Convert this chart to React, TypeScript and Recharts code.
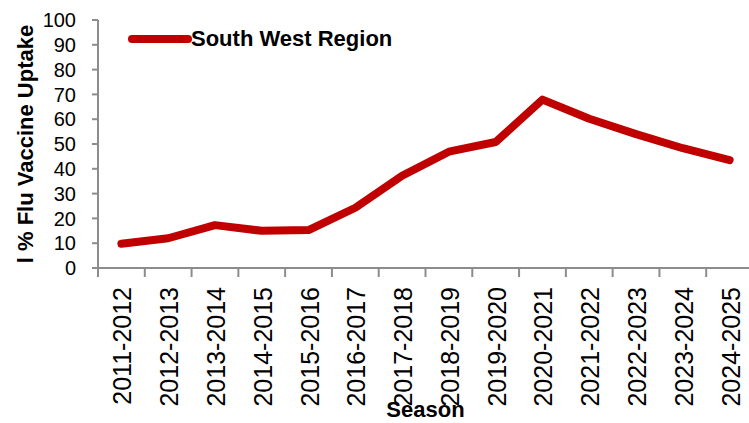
import React from 'react';
import { LineChart, Line, XAxis, YAxis } from 'recharts';

const seasons = [
  '2011-2012', '2012-2013', '2013-2014', '2014-2015', '2015-2016', '2016-2017', '2017-2018',
  '2018-2019', '2019-2020', '2020-2021', '2021-2022', '2022-2023', '2023-2024', '2024-2025',
];
const southWest = [9.8, 12.0, 17.3, 15.0, 15.3, 24.3, 37.2, 46.9, 50.8, 67.9, 60.2, 54.0, 48.3, 43.5];
const yTicks = [0, 10, 20, 30, 40, 50, 60, 70, 80, 90, 100];
const seriesName = 'South West Region';
const yTitle = 'l % Flu Vaccine Uptake';
const xTitle = 'Season';

const data = seasons.map((s, i) => ({ season: s, value: southWest[i] }));

const W = 760;
const H = 423;
const LEFT = 98;
const RIGHT = 753;
const TOP = 20;
const BOTTOM = 268;
const BW = (RIGHT - LEFT) / seasons.length;
const FONT = '"Liberation Sans", Arial, sans-serif';
const AXIS = '#8c8c8c';
const RED = '#C00000';

const XTick = (props: any) => {
  const { x, payload, index } = props;
  return (
    <g>
      <line x1={x - BW / 2} x2={x - BW / 2} y1={BOTTOM} y2={BOTTOM + 9} stroke={AXIS} strokeWidth={2} />
      {index === seasons.length - 1 && (
        <line x1={x + BW / 2} x2={x + BW / 2} y1={BOTTOM} y2={BOTTOM + 9} stroke={AXIS} strokeWidth={2} />
      )}
      <text
        transform={`translate(${x + 10},${287}) rotate(-90)`}
        textAnchor="end"
        fontSize={25}
        fontFamily={FONT}
        fill="#000"
      >
        {payload.value}
      </text>
    </g>
  );
};

export default function App() {
  return (
    <div style={{ position: 'absolute', left: 0, top: 0, width: 749, height: 423, overflow: 'hidden', background: '#fff' }}>
      <LineChart width={W} height={H} data={data} margin={{ top: TOP, right: W - RIGHT, bottom: 0, left: 0 }}>
        <XAxis
          dataKey="season"
          height={H - BOTTOM}
          interval={0}
          padding={{ left: BW / 2, right: BW / 2 }}
          tickLine={false}
          axisLine={{ stroke: AXIS, strokeWidth: 2 }}
          tick={<XTick />}
          label={{
            content: () => (
              <text x={(LEFT + RIGHT) / 2} y={417} textAnchor="middle" fontSize={22} fontWeight="bold" fontFamily={FONT} fill="#000">
                {xTitle}
              </text>
            ),
          }}
        />
        <YAxis
          width={LEFT}
          domain={[0, 100]}
          ticks={yTicks}
          interval={0}
          tickSize={6}
          tickMargin={16}
          axisLine={{ stroke: AXIS, strokeWidth: 2 }}
          tickLine={{ stroke: AXIS, strokeWidth: 2 }}
          tick={{ fontSize: 20, fill: '#000', fontFamily: FONT }}
          label={{
            content: () => (
              <text
                transform={`translate(${33},${(TOP + BOTTOM) / 2}) rotate(-90)`}
                textAnchor="middle"
                fontSize={22}
                fontWeight="bold"
                fontFamily={FONT}
                fill="#000"
              >
                {yTitle}
              </text>
            ),
          }}
        />
        <Line
          type="linear"
          dataKey="value"
          name={seriesName}
          stroke={RED}
          strokeWidth={8}
          strokeLinejoin="round"
          strokeLinecap="round"
          dot={false}
          activeDot={false}
          isAnimationActive={false}
        />
      </LineChart>
      <div style={{ position: 'absolute', left: 128, top: 26, display: 'flex', alignItems: 'center', fontFamily: FONT }}>
        <svg width={64} height={26}>
          <line x1={4} x2={60} y1={13} y2={13} stroke={RED} strokeWidth={8} strokeLinecap="round" />
        </svg>
        <span style={{ fontSize: 22, fontWeight: 'bold', color: '#000', marginLeft: -1 }}>{seriesName}</span>
      </div>
    </div>
  );
}
